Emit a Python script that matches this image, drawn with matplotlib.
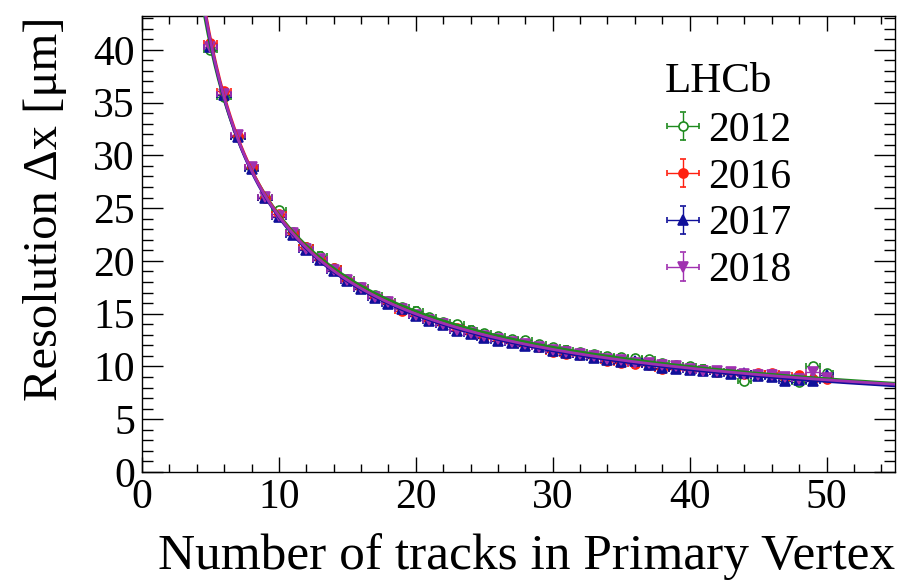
import numpy as np
import matplotlib
matplotlib.use("Agg")
import matplotlib.pyplot as plt
from matplotlib.ticker import MultipleLocator
from matplotlib.legend_handler import HandlerErrorbar

plt.rcParams["font.family"] = ["Liberation Serif", "DejaVu Serif"]

# track multiplicity bins (one point per integer number of tracks)
ntracks = np.arange(5, 51)

res_2012 = [40.0, 35.5, 31.7, 28.8, 26.1, 24.8, 22.7, 21.3, 20.5, 19.3,
            18.3, 17.5, 16.8, 16.2, 15.6, 15.3, 14.7, 14.2, 14.0, 13.5,
            13.2, 12.9, 12.6, 12.5, 12.1, 11.8, 11.6, 11.4, 11.2, 11.0,
            10.9, 10.8, 10.7, 10.3, 10.1, 10.0, 9.8, 9.6, 9.5, 8.6,
            9.2, 9.3, 8.9, 8.5, 10.0, 9.4]
res_2016 = [40.6, 36.1, 31.8, 28.9, 26.0, 24.4, 22.6, 21.3, 20.2, 19.3,
            18.2, 17.4, 16.6, 16.1, 15.3, 14.9, 14.4, 14.0, 13.6, 13.2,
            12.8, 12.6, 12.3, 12.0, 11.8, 11.4, 11.2, 11.1, 10.9, 10.5,
            10.3, 10.2, 10.1, 9.8, 9.9, 9.8, 9.7, 9.5, 9.4, 9.3,
            9.4, 9.4, 9.0, 9.2, 8.8, 8.8]
res_2017 = [40.3, 35.7, 31.7, 28.7, 26.0, 24.2, 22.5, 21.0, 20.1, 19.0,
            18.1, 17.3, 16.5, 15.9, 15.4, 14.8, 14.3, 13.9, 13.4, 13.1,
            12.7, 12.4, 12.2, 11.9, 11.8, 11.5, 11.3, 11.1, 10.8, 10.6,
            10.4, 10.5, 10.1, 9.9, 9.8, 9.7, 9.6, 9.5, 9.3, 9.4,
            9.1, 9.0, 8.6, 8.7, 8.6, 9.2]
res_2018 = [40.3, 35.8, 31.9, 28.9, 26.1, 24.3, 22.6, 21.1, 20.2, 19.1,
            18.2, 17.4, 16.6, 16.1, 15.4, 14.9, 14.4, 14.0, 13.5, 13.2,
            12.9, 12.6, 12.3, 12.1, 11.8, 11.6, 11.4, 11.2, 11.0, 10.7,
            10.6, 10.3, 10.3, 10.1, 10.0, 9.8, 9.6, 9.6, 9.5, 9.3,
            9.2, 9.2, 9.0, 8.8, 9.5, 8.9]
res_err = 0.3

years = ["2012", "2016", "2017", "2018"]
series = [res_2012, res_2016, res_2017, res_2018]
colors = ["#1e8a1e", "#ff2010", "#10109a", "#a030b0"]
markers = ["o", "o", "^", "v"]
filled = [False, True, True, True]


def fit_resolution(n, y):
    """Fit sigma = A / N^B + C: scan B, solve A, C by linear least squares."""
    best = None
    for b in np.linspace(0.4, 1.4, 501):
        m = np.column_stack([n ** -b, np.ones_like(n, dtype=float)])
        coef, *_ = np.linalg.lstsq(m, y, rcond=None)
        chi2 = np.sum((m @ coef - y) ** 2)
        if best is None or chi2 < best[0]:
            best = (chi2, coef[0], b, coef[1])
    return best[1:]


fig = plt.figure(figsize=(9.01, 5.80), dpi=100)
ax = fig.add_axes([0.1576, 0.1862, 0.8357, 0.7862])

xfine = np.linspace(3.5, 55, 400)
handles = []
for yr, y, c, mk, fl in zip(years, series, colors, markers, filled):
    h = ax.errorbar(ntracks, y, xerr=0.5, yerr=res_err, fmt=mk, color=c,
                    mfc=c if fl else "white", mec=c, ms=6.5, mew=1.2,
                    elinewidth=1.0, capsize=2, capthick=1.0, label=yr, zorder=3)
    handles.append(h)

for y, c in zip(series, colors):
    a, b, cc = fit_resolution(ntracks.astype(float), np.asarray(y))
    ax.plot(xfine, a / xfine ** b + cc, color=c, lw=2.0, zorder=4)

ax.set_xlim(0, 55)
ax.set_ylim(0, 43.2)
ax.xaxis.set_major_locator(MultipleLocator(10))
ax.xaxis.set_minor_locator(MultipleLocator(2))
ax.yaxis.set_major_locator(MultipleLocator(5))
ax.yaxis.set_minor_locator(MultipleLocator(1))
ax.tick_params(axis="both", which="both", direction="in", top=True, right=True,
               labelsize=30, width=1.0)
ax.tick_params(axis="x", which="major", length=11, pad=5)
ax.tick_params(axis="x", which="minor", length=5.5)
ax.tick_params(axis="y", which="major", length=15, pad=5)
ax.tick_params(axis="y", which="minor", length=8)
for s in ax.spines.values():
    s.set_linewidth(1.0)

ax.set_xlabel("Number of tracks in Primary Vertex", fontsize=37, loc="right",
              labelpad=11)
ax.set_ylabel("Resolution \u0394x [\u03bcm]", fontsize=35, loc="top",
              labelpad=19)

ax.text(0.6946, 0.8333, "LHCb", transform=ax.transAxes, fontsize=31,
        ha="left", va="baseline")
ax.legend(handles=handles, labels=years, loc="upper left",
          bbox_to_anchor=(0.663, 0.846), frameon=False, fontsize=30,
          handlelength=0.8, handletextpad=0.2, labelspacing=0.2,
          borderpad=0.1,
          handler_map={type(handles[0]): HandlerErrorbar(xerr_size=0.38,
                                                         yerr_size=0.34)})

fig.savefig("out.png", dpi=100)
